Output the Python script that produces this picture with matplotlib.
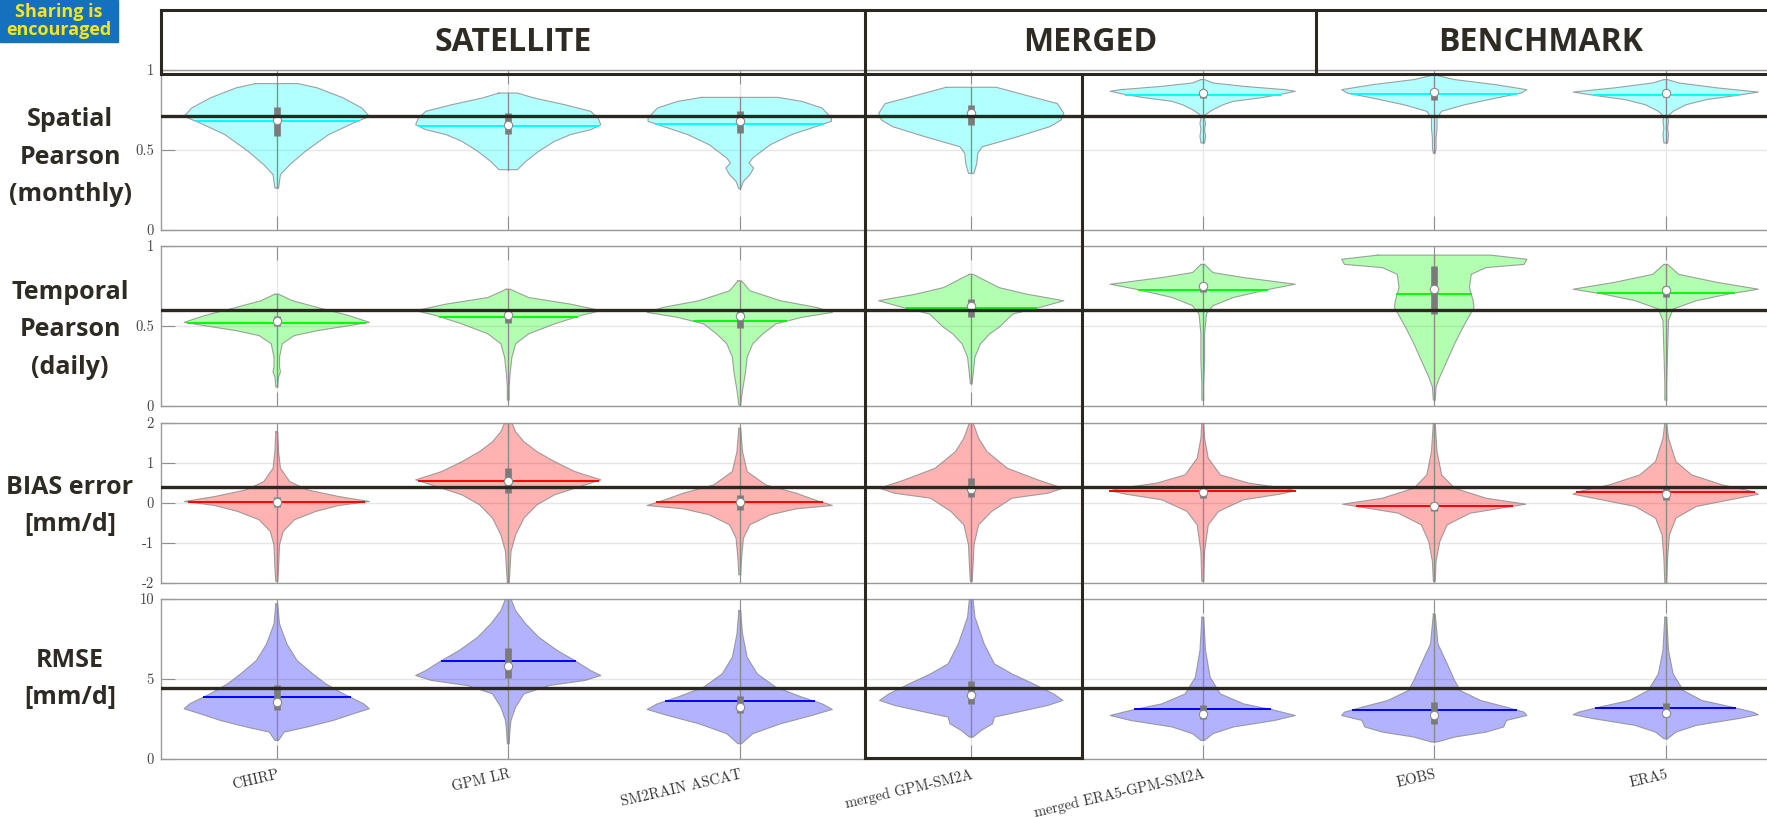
import matplotlib
matplotlib.use("Agg")
import matplotlib.pyplot as plt
import numpy as np
from matplotlib.transforms import blended_transform_factory
from matplotlib.patches import Rectangle
from matplotlib.lines import Line2D

# products on the x axis and the three groups of the header
products = ["CHIRP", "GPM LR", "SM2RAIN ASCAT", "merged GPM-SM2A",
            "merged ERA5-GPM-SM2A", "EOBS", "ERA5"]
groups = ["SATELLITE", "MERGED", "BENCHMARK"]
row_labels = ["Spatial\nPearson\n(monthly)", "Temporal\nPearson\n(daily)",
              "BIAS error\n[mm/d]", "RMSE\n[mm/d]"]
thresholds = [0.71, 0.6, 0.4, 4.45]

# violin outlines: value -> relative half width (0..1)
spatial_vals = [
    [0.915, 0.888, 0.825, 0.762, 0.710, 0.669, 0.596, 0.492, 0.408, 0.346, 0.262],
    [0.856, 0.825, 0.783, 0.742, 0.700, 0.658, 0.627, 0.596, 0.554, 0.492, 0.429, 0.377],
    [0.829, 0.804, 0.762, 0.700, 0.679, 0.648, 0.596, 0.533, 0.45, 0.419, 0.387, 0.346, 0.304, 0.258],
    [0.892, 0.833, 0.79, 0.729, 0.6875, 0.646, 0.583, 0.52, 0.479, 0.417, 0.354],
    [0.94, 0.919, 0.898, 0.877, 0.867, 0.846, 0.825, 0.804, 0.783, 0.752, 0.721, 0.69, 0.669, 0.627, 0.585, 0.544],
    [0.967, 0.94, 0.908, 0.877, 0.856, 0.825, 0.783, 0.742, 0.7, 0.637, 0.575, 0.512, 0.48],
    [0.94, 0.919, 0.888, 0.862, 0.842, 0.815, 0.783, 0.742, 0.71, 0.679, 0.637, 0.596, 0.544],
]
spatial_widths = [
    [0.23, 0.44, 0.72, 0.92, 1.0, 0.83, 0.56, 0.31, 0.14, 0.04, 0.02],
    [0.10, 0.28, 0.61, 0.89, 0.97, 1.0, 0.89, 0.67, 0.50, 0.33, 0.19, 0.10],
    [0.41, 0.67, 0.89, 0.99, 0.99, 0.83, 0.56, 0.33, 0.14, 0.10, 0.15, 0.11, 0.04, 0.01],
    [0.27, 0.65, 0.93, 1.0, 0.97, 0.85, 0.5, 0.12, 0.07, 0.06, 0.03],
    [0.02, 0.11, 0.44, 0.89, 1.0, 0.83, 0.61, 0.33, 0.22, 0.11, 0.03, 0.02, 0.03, 0.02, 0.03, 0.02],
    [0.02, 0.22, 0.67, 1.0, 0.94, 0.67, 0.33, 0.08, 0.03, 0.03, 0.02, 0.02, 0.01],
    [0.02, 0.14, 0.56, 1.0, 0.78, 0.44, 0.22, 0.08, 0.02, 0.03, 0.02, 0.03, 0.02],
]
spatial_mean = [0.68, 0.648, 0.662, 0.715, 0.846, 0.85, 0.842]
spatial_median = [0.69, 0.658, 0.679, 0.729, 0.856, 0.862, 0.856]
spatial_q1 = [0.59, 0.602, 0.606, 0.655, 0.825, 0.815, 0.83]
spatial_q3 = [0.77, 0.731, 0.742, 0.78, 0.877, 0.883, 0.877]

temporal_vals = [
    [0.699, 0.658, 0.616, 0.565, 0.523, 0.502, 0.471, 0.44, 0.389, 0.306, 0.244, 0.213, 0.182, 0.12],
    [0.73, 0.678, 0.637, 0.596, 0.565, 0.513, 0.451, 0.389, 0.306, 0.202, 0.12, 0.037],
    [0.782, 0.72, 0.658, 0.616, 0.585, 0.554, 0.513, 0.451, 0.389, 0.306, 0.202, 0.099, 0.006],
    [0.823, 0.74, 0.699, 0.658, 0.616, 0.575, 0.492, 0.451, 0.389, 0.306, 0.2, 0.14],
    [0.885, 0.834, 0.803, 0.761, 0.73, 0.678, 0.627, 0.575, 0.451, 0.285, 0.14, 0.037],
    [0.943, 0.917, 0.885, 0.865, 0.823, 0.74, 0.658, 0.616, 0.575, 0.492, 0.389, 0.285, 0.182, 0.12, 0.037],
    [0.885, 0.823, 0.772, 0.73, 0.699, 0.658, 0.606, 0.534, 0.347, 0.14, 0.037],
]
temporal_widths = [
    [0.02, 0.17, 0.44, 0.78, 1.0, 0.78, 0.44, 0.19, 0.06, 0.03, 0.03, 0.04, 0.02, 0.01],
    [0.02, 0.22, 0.67, 1.0, 0.78, 0.5, 0.22, 0.08, 0.04, 0.02, 0.01, 0.01],
    [0.02, 0.11, 0.44, 0.83, 1.0, 0.67, 0.39, 0.25, 0.14, 0.08, 0.06, 0.03, 0.01],
    [0.02, 0.3, 0.6, 1.0, 0.74, 0.45, 0.3, 0.2, 0.1, 0.04, 0.02, 0.01],
    [0.02, 0.11, 0.44, 1.0, 0.72, 0.33, 0.11, 0.04, 0.02, 0.02, 0.01, 0.01],
    [0.61, 1.0, 0.97, 0.56, 0.4, 0.38, 0.42, 0.43, 0.39, 0.31, 0.22, 0.14, 0.06, 0.02, 0.01],
    [0.02, 0.14, 0.56, 1.0, 0.67, 0.33, 0.08, 0.03, 0.02, 0.01, 0.01],
]
temporal_mean = [0.519, 0.558, 0.529, 0.61, 0.726, 0.699, 0.705]
temporal_median = [0.529, 0.571, 0.565, 0.627, 0.747, 0.734, 0.724]
temporal_q1 = [0.502, 0.517, 0.488, 0.554, 0.71, 0.575, 0.682]
temporal_q3 = [0.565, 0.6, 0.596, 0.668, 0.765, 0.875, 0.75]

bias_vals = [
    [1.78, 1.285, 0.869, 0.536, 0.328, 0.162, 0.037, -0.062, -0.212, -0.42, -0.711, -1.044, -1.626, -1.958],
    [2.0, 1.78, 1.53, 1.285, 1.035, 0.786, 0.578, 0.453, 0.204, -0.046, -0.378, -0.794, -1.21, -1.626, -2.0],
    [1.867, 1.285, 0.786, 0.453, 0.245, 0.079, -0.062, -0.146, -0.295, -0.545, -0.877, -1.376, -1.792],
    [2.0, 1.617, 1.285, 0.869, 0.578, 0.37, 0.245, 0.12, -0.212, -0.545, -1.044, -1.543, -1.958],
    [2.0, 1.617, 1.118, 0.703, 0.495, 0.37, 0.304, 0.22, 0.079, -0.212, -0.545, -1.21, -1.958],
    [2.0, 1.285, 0.703, 0.37, 0.12, -0.03, -0.129, -0.254, -0.545, -0.961, -1.46, -1.958],
    [2.0, 1.617, 1.035, 0.703, 0.453, 0.287, 0.22, 0.12, -0.087, -0.378, -0.794, -1.376, -2.0],
]
bias_widths = [
    [0.01, 0.02, 0.04, 0.14, 0.33, 0.67, 1.0, 0.67, 0.42, 0.19, 0.07, 0.03, 0.02, 0.01],
    [0.04, 0.08, 0.17, 0.31, 0.5, 0.72, 1.0, 0.83, 0.5, 0.31, 0.17, 0.08, 0.03, 0.02, 0.01],
    [0.01, 0.03, 0.08, 0.28, 0.61, 0.81, 1.0, 0.61, 0.33, 0.11, 0.04, 0.02, 0.01],
    [0.02, 0.08, 0.17, 0.39, 0.72, 0.99, 0.83, 0.44, 0.22, 0.08, 0.03, 0.02, 0.01],
    [0.01, 0.02, 0.06, 0.19, 0.5, 0.89, 1.0, 0.83, 0.44, 0.17, 0.06, 0.02, 0.01],
    [0.01, 0.03, 0.08, 0.22, 0.56, 0.99, 0.72, 0.39, 0.14, 0.06, 0.02, 0.01],
    [0.01, 0.03, 0.11, 0.28, 0.61, 0.94, 1.0, 0.78, 0.33, 0.11, 0.04, 0.02, 0.01],
]
bias_mean = [0.02, 0.553, 0.02, 0.38, 0.304, -0.087, 0.27]
bias_median = [0.037, 0.553, 0.013, 0.353, 0.287, -0.07, 0.229]
bias_q1 = [-0.1, 0.245, -0.17, 0.162, 0.12, -0.212, 0.08]
bias_q3 = [0.15, 0.869, 0.204, 0.62, 0.41, 0.037, 0.37]

rmse_vals = [
    [9.69, 8.44, 7.19, 6.15, 5.32, 4.70, 4.07, 3.45, 3.14, 2.83, 2.41, 2.0, 1.68, 1.16],
    [10.0, 9.27, 8.44, 7.61, 6.78, 6.15, 5.53, 5.22, 4.91, 4.59, 4.07, 3.24, 2.41, 1.89, 0.96],
    [9.27, 7.82, 6.36, 5.32, 4.49, 3.87, 3.45, 3.1, 2.72, 2.2, 1.58, 0.96],
    [10.0, 8.86, 7.19, 5.95, 5.32, 4.70, 4.07, 3.66, 3.35, 2.93, 2.62, 2.2, 1.79, 1.37],
    [8.86, 6.78, 5.11, 4.07, 3.45, 3.04, 2.72, 2.41, 2.0, 1.58, 1.16],
    [9.06, 7.19, 5.95, 4.91, 4.28, 3.66, 3.24, 2.93, 2.72, 2.41, 2.0, 1.68, 1.37, 1.06],
    [8.86, 6.78, 5.32, 4.28, 3.66, 3.24, 2.93, 2.77, 2.52, 2.1, 1.68, 1.27],
]
rmse_widths = [
    [0.01, 0.03, 0.11, 0.22, 0.39, 0.53, 0.72, 0.94, 1.0, 0.83, 0.61, 0.33, 0.08, 0.02],
    [0.03, 0.08, 0.19, 0.33, 0.53, 0.72, 0.89, 1.0, 0.83, 0.44, 0.17, 0.08, 0.03, 0.02, 0.01],
    [0.01, 0.03, 0.08, 0.19, 0.39, 0.67, 0.89, 1.0, 0.78, 0.44, 0.14, 0.02],
    [0.02, 0.04, 0.14, 0.25, 0.44, 0.67, 0.89, 0.99, 0.83, 0.5, 0.25, 0.23, 0.11, 0.02],
    [0.01, 0.03, 0.08, 0.19, 0.44, 0.78, 1.0, 0.78, 0.33, 0.11, 0.02],
    [0.01, 0.04, 0.14, 0.22, 0.28, 0.5, 0.78, 0.97, 1.0, 0.78, 0.75, 0.56, 0.22, 0.03],
    [0.01, 0.03, 0.08, 0.19, 0.39, 0.72, 0.94, 1.0, 0.78, 0.33, 0.11, 0.02],
]
rmse_mean = [3.87, 6.15, 3.62, 4.45, 3.1, 3.08, 3.2]
rmse_median = [3.55, 5.84, 3.24, 4.03, 2.83, 2.77, 2.87]
rmse_q1 = [3.04, 5.07, 2.87, 3.45, 2.5, 2.16, 2.6]
rmse_q3 = [4.6, 6.94, 3.91, 4.9, 3.35, 3.55, 3.5]

rows = [
    (spatial_vals, spatial_widths, spatial_mean, spatial_median, spatial_q1, spatial_q3),
    (temporal_vals, temporal_widths, temporal_mean, temporal_median, temporal_q1, temporal_q3),
    (bias_vals, bias_widths, bias_mean, bias_median, bias_q1, bias_q3),
    (rmse_vals, rmse_widths, rmse_mean, rmse_median, rmse_q1, rmse_q3),
]
row_colors = ["#00ffff", "#00ff00", "#ff0000", "#0000ff"]
row_ylims = [(0, 1), (0, 1), (-2, 2), (0, 10)]
row_yticks = [[0, 0.5, 1], [0, 0.5, 1], [-2, -1, 0, 1, 2], [0, 5, 10]]
row_yticklabels = [["0", "0.5", "1"], ["0", "0.5", "1"],
                   ["-2", "-1", "0", "1", "2"], ["0", "5", "10"]]

W, H = 1767, 818
fig = plt.figure(figsize=(W / 100, H / 100), dpi=100)

dark = "#2b2721"
label_color = "#2e2b24"
tick_font = "cmr10"
positions = np.arange(1, len(products) + 1)
half = 0.4

ax_left = 161 / W
ax_width = 7 * 231.5 / W
tops_px = [70, 246, 423, 599]
label_shift = [7, 4, 3, 0]
height = 160 / H

axes = []
for i, (vals, widths, means, medians, q1s, q3s) in enumerate(rows):
    ax = fig.add_axes([ax_left, 1 - (tops_px[i] + 160) / H, ax_width, height])
    axes.append(ax)
    col = row_colors[i]
    for k, p in enumerate(positions):
        v = np.array(vals[k])
        w = np.array(widths[k]) * half
        ax.fill_betweenx(v, p - w, p + w, facecolor=col, alpha=0.3,
                         edgecolor="none", zorder=2)
        ax.plot(np.r_[p - w, (p + w)[::-1], (p - w)[:1]],
                np.r_[v, v[::-1], v[:1]], color="#8a8a8a", lw=0.8,
                alpha=0.8, zorder=3)
        ax.plot([p, p], [v.min(), v.max()], color="#8a8a8a", lw=0.9, zorder=3)
        mw = np.interp(means[k], v[::-1], w[::-1])
        ax.plot([p - mw, p + mw], [means[k], means[k]], color=col, lw=1.4,
                zorder=4)
        ax.plot([p, p], [q1s[k], q3s[k]], color="#7a7a7a", lw=4.8,
                solid_capstyle="butt", zorder=5)
        ax.plot(p, medians[k], "o", ms=6, mfc="white", mec="#8a8a8a",
                mew=0.8, zorder=6)
    ax.axhline(thresholds[i], color=dark, lw=2.4, zorder=8)

    ax.set_xlim(0.5, 7.5)
    ax.set_ylim(*row_ylims[i])
    ax.set_xticks(positions)
    ax.set_yticks(row_yticks[i])
    ax.set_yticklabels(row_yticklabels[i], fontfamily=tick_font, fontsize=10.5,
                       color="#444444")
    ax.grid(True, color="#e6e6e6", lw=1.0, zorder=0)
    ax.set_axisbelow(True)
    ax.tick_params(direction="in", length=10, width=0.8, color="#8f8f8f",
                   top=True, pad=5)
    for s in ax.spines.values():
        s.set_color("#9a9a9a")
        s.set_linewidth(1.0)
    if i < 3:
        ax.set_xticklabels([])
    else:
        ax.set_xticklabels(products, rotation=13, ha="right",
                           rotation_mode="anchor", fontfamily=tick_font,
                           fontsize=10.5, color="#333333")
        ax.tick_params(axis="x", pad=6)

    cy = 1 - (tops_px[i] + 80 + label_shift[i]) / H
    fig.text(70 / W, cy, row_labels[i], ha="center", va="center",
             multialignment="center", fontsize=18, fontweight="bold",
             family=["Open Sans", "DejaVu Sans"], color=label_color,
             linespacing=1.65)

# header boxes and the frame round the merged product
tr = blended_transform_factory(axes[0].transData, fig.transFigure)
y_top = 1 - 10 / H
y_bot = 1 - 74 / H
y_low = 1 - 758 / H
x_div1, x_div2, x_mrg = 3.54, 5.49, 4.48
segments = [
    ([0.5, 7.6], [y_top, y_top]),
    ([0.5, 7.6], [y_bot, y_bot]),
    ([0.5, 0.5], [y_bot, y_top]),
    ([x_div1, x_div1], [y_low, y_top]),
    ([x_div2, x_div2], [y_bot, y_top]),
    ([x_mrg, x_mrg], [y_low, y_bot]),
    ([x_div1, x_mrg], [y_low, y_low]),
]
for xs, ys in segments:
    fig.add_artist(Line2D(xs, ys, transform=tr, color=dark, lw=2.2,
                          solid_capstyle="projecting", zorder=10))

header_x = [(0.5 + x_div1) / 2, (x_div1 + x_div2) / 2, 6.46]
for gx, g in zip(header_x, groups):
    fig.text(gx, (y_top + y_bot) / 2, g, transform=tr, ha="center",
             va="center", fontsize=23, fontweight="bold",
             family=["Open Sans", "DejaVu Sans"], color=label_color)

# badge in the corner
fig.add_artist(Rectangle((0, 1 - 42 / H), 118 / W, 42 / H,
                         transform=fig.transFigure, color="#1570be", zorder=11))
fig.text(59 / W, 1 - 21 / H, "Sharing is\nencouraged", ha="center",
         va="center", fontsize=13, fontweight="bold",
         family=["Open Sans", "DejaVu Sans"], color="#f7e51c",
         linespacing=0.95, zorder=12)

fig.savefig("out.png", dpi=100)
